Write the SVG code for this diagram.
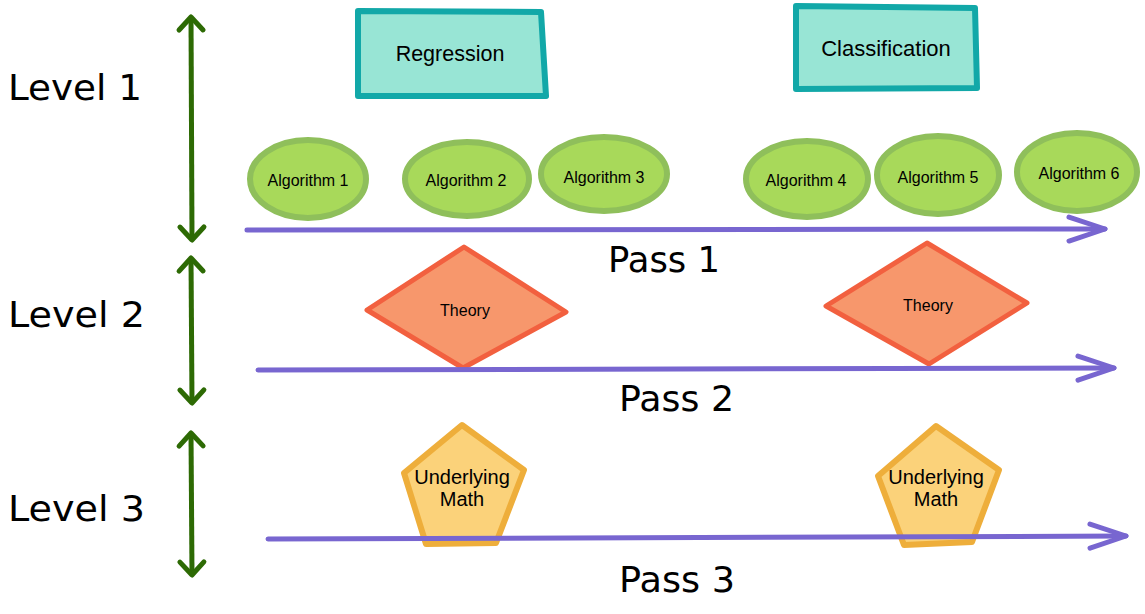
<svg xmlns="http://www.w3.org/2000/svg" width="1145" height="614" viewBox="0 0 1145 614">
<defs>
<style>
.hand{font-family:"DejaVu Sans","Liberation Sans",sans-serif;font-size:36px;fill:#000;}
.lbl{font-family:"Liberation Sans",Arial,sans-serif;fill:#000;text-anchor:middle;}
.box{fill:#98e5d5;stroke:#12a8a8;stroke-width:6;stroke-linejoin:round;}
.alg{fill:#a8d95a;stroke:#8fbf5b;stroke-width:6;}
.dia{fill:#f7976c;stroke:#f2603f;stroke-width:5;stroke-linejoin:round;}
.pent{fill:#fbd27a;stroke:#eeae3b;stroke-width:6;stroke-linejoin:round;}
.pass{fill:none;stroke:#7866d0;stroke-width:5;stroke-linecap:round;marker-end:url(#pa);}
.lvl{fill:none;stroke:#2d6a04;stroke-width:5;marker-start:url(#ga);marker-end:url(#ga);}
</style>
<marker id="pa" markerUnits="userSpaceOnUse" viewBox="-45 -20 55 40" markerWidth="55" markerHeight="40" refX="0" refY="0" orient="auto">
<path d="M-36,-12 L0,0 L-36,12" fill="none" stroke="#7866d0" stroke-width="5" stroke-linecap="round" stroke-linejoin="round"/>
</marker>
<marker id="ga" markerUnits="userSpaceOnUse" viewBox="-20 -16 26 32" markerWidth="26" markerHeight="32" refX="0" refY="0" orient="auto-start-reverse">
<path d="M-13,-12 L0,0 L-13,12" fill="none" stroke="#2d6a04" stroke-width="5" stroke-linecap="round" stroke-linejoin="round"/>
</marker>
</defs>
<rect width="1145" height="614" fill="#fff"/>

<g id="labels">
<text class="hand" x="8" y="100" textLength="134" lengthAdjust="spacingAndGlyphs">Level 1</text>
<text class="hand" x="8" y="327" textLength="137" lengthAdjust="spacingAndGlyphs">Level 2</text>
<text class="hand" x="8" y="521" textLength="137" lengthAdjust="spacingAndGlyphs">Level 3</text>
<text class="hand" x="608" y="272" textLength="112" lengthAdjust="spacingAndGlyphs">Pass 1</text>
<text class="hand" x="619" y="411" textLength="115" lengthAdjust="spacingAndGlyphs">Pass 2</text>
<text class="hand" x="619" y="592" textLength="116" lengthAdjust="spacingAndGlyphs">Pass 3</text>
</g>

<g id="regression">
<polygon class="box" points="358,11 541,12 546,96 358,96"/>
<text class="lbl" x="450" y="61" font-size="21.5">Regression</text>
</g>
<g id="classification">
<polygon class="box" points="796,6 975,8 977,88 796,89"/>
<text class="lbl" x="886" y="56" font-size="22">Classification</text>
</g>

<g id="algorithm1"><ellipse class="alg" cx="308" cy="179" rx="58" ry="39"/><text class="lbl" x="308" y="186" font-size="16">Algorithm 1</text></g>
<g id="algorithm2"><ellipse class="alg" cx="467" cy="179" rx="62" ry="37"/><text class="lbl" x="466" y="186" font-size="16">Algorithm 2</text></g>
<g id="algorithm3"><ellipse class="alg" cx="604" cy="174" rx="63" ry="37"/><text class="lbl" x="604" y="183" font-size="16">Algorithm 3</text></g>
<g id="algorithm4"><ellipse class="alg" cx="807" cy="179" rx="61" ry="38"/><text class="lbl" x="806" y="186" font-size="16">Algorithm 4</text></g>
<g id="algorithm5"><ellipse class="alg" cx="938" cy="175" rx="61" ry="39"/><text class="lbl" x="938" y="183" font-size="16">Algorithm 5</text></g>
<g id="algorithm6"><ellipse class="alg" cx="1077" cy="172" rx="60" ry="39"/><text class="lbl" x="1079" y="179" font-size="16">Algorithm 6</text></g>

<g id="theory1">
<polygon class="dia" points="464,247 566,312 463,368 367,310"/>
<text class="lbl" x="465" y="316" font-size="16">Theory</text>
</g>
<g id="theory2">
<polygon class="dia" points="927,243 1027,303 929,364 826,306"/>
<text class="lbl" x="928" y="311" font-size="16">Theory</text>
</g>

<g id="math1">
<polygon class="pent" points="462,425 524,470 496,543 426,544 404,473"/>
<text class="lbl" x="462" y="484" font-size="20">Underlying</text>
<text class="lbl" x="462" y="506" font-size="20">Math</text>
</g>
<g id="math2">
<polygon class="pent" points="936,426 999,470 972,542 904,545 878,476"/>
<text class="lbl" x="936" y="484" font-size="20">Underlying</text>
<text class="lbl" x="936" y="506" font-size="20">Math</text>
</g>

<g id="connectors">
<line class="lvl" x1="191" y1="17" x2="192" y2="240"/>
<line class="lvl" x1="191" y1="258" x2="192" y2="403"/>
<line class="lvl" x1="191" y1="433" x2="192" y2="575"/>
<line class="pass" x1="247" y1="230" x2="1105" y2="229"/>
<line class="pass" x1="258" y1="370" x2="1114" y2="368"/>
<line class="pass" x1="268" y1="539" x2="1126" y2="536"/>
</g>
</svg>
